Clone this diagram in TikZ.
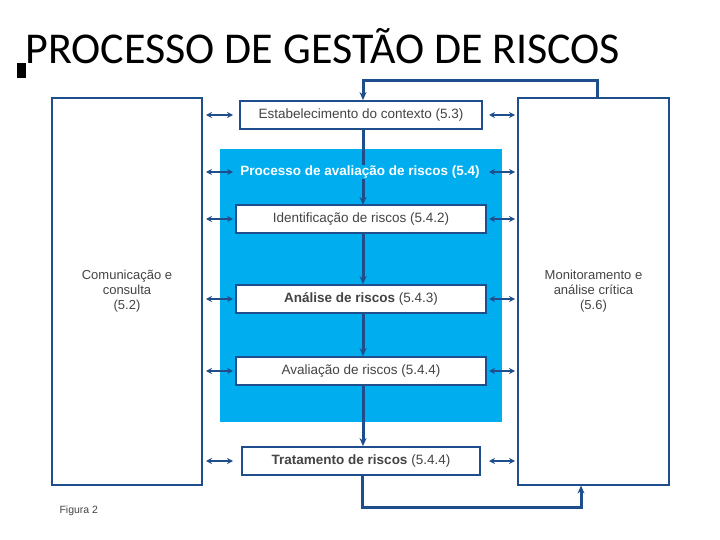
\documentclass[tikz,border=0pt]{standalone}
\usepackage{fontspec}
\setmainfont{Liberation Sans}
\newfontfamily\titlefont{Carlito}
\usetikzlibrary{arrows.meta}
\definecolor{dblue}{HTML}{1F4E8C}
\definecolor{cyanbg}{HTML}{00AEEF}
\definecolor{tgray}{HTML}{444444}
\begin{document}
\begin{tikzpicture}[x=1pt,y=-1pt,
  sbox/.style={draw=dblue,line width=1.8pt,fill=white,text=tgray,font=\fontsize{13.5}{15}\selectfont,inner sep=0pt},
  side/.style={draw=dblue,line width=1.2pt,fill=white,text=tgray,font=\fontsize{13}{15}\selectfont,align=center},
  dbl/.style={{Stealth[length=6pt,width=6pt]}-{Stealth[length=6pt,width=6pt]},dblue,line width=2pt},
  flow/.style={-{Stealth[length=8pt,width=7pt]},dblue,line width=3pt}]
\useasboundingbox (0,0) rectangle (720,540);
\fill[cyanbg] (220,149) rectangle (502,422);
\node[anchor=west,font=\fontsize{44}{46}\selectfont\titlefont] (title) at (22,46) {PROCESSO DE GESTÃO DE RISCOS};
\fill (17,63) rectangle (26,78);
\node[side,minimum width=150pt,minimum height=387pt] (L) at (127,291.5) {Comunicação e\\consulta\\(5.2)};
\node[side,minimum width=151pt,minimum height=387pt] (R) at (593.5,291.5) {Monitoramento e\\análise crítica\\(5.6)};
\draw[flow] (363,129) -- (363,205);
\node[fill=cyanbg,inner sep=1pt,text=white,font=\bfseries\fontsize{13.5}{15}\selectfont] (P) at (360,172) {Processo de avaliação de riscos (5.4)};
\node[sbox,minimum width=242pt,minimum height=28pt] (E) at (361,115) {Estabelecimento do contexto (5.3)};
\node[sbox,minimum width=250pt,minimum height=28pt] (I) at (361,219) {Identificação de riscos (5.4.2)};
\node[sbox,minimum width=250pt,minimum height=28pt] (A) at (361,299) {\textbf{Análise de riscos} (5.4.3)};
\node[sbox,minimum width=250pt,minimum height=28pt] (V) at (361,371) {Avaliação de riscos (5.4.4)};
\node[sbox,minimum width=238pt,minimum height=28pt] (T) at (361,461) {\textbf{Tratamento de riscos} (5.4.4)};
\foreach \n/\y in {E/115,P/172,I/219,A/299,V/371,T/461}{
  \draw[dbl] (206,\y) -- (233,\y);
  \draw[dbl] (489,\y) -- (515,\y);
}
\draw[flow] (I.south -| 363,0) -- (A.north -| 363,0);
\draw[flow] (A.south -| 363,0) -- (V.north -| 363,0);
\draw[flow] (V.south -| 363,0) -- (T.north -| 363,0);
\draw[flow] (R.north -| 597,0) -- (597,81) -- (363,81) -- (E.north -| 363,0);
\draw[flow] (T.south -| 362,0) -- (362,507) -- (581,507) -- (R.south -| 581,0);
\node[anchor=west,text=tgray,font=\fontsize{10.5}{12}\selectfont] (fig) at (56,511) {Figura 2};
\end{tikzpicture}
\end{document}
